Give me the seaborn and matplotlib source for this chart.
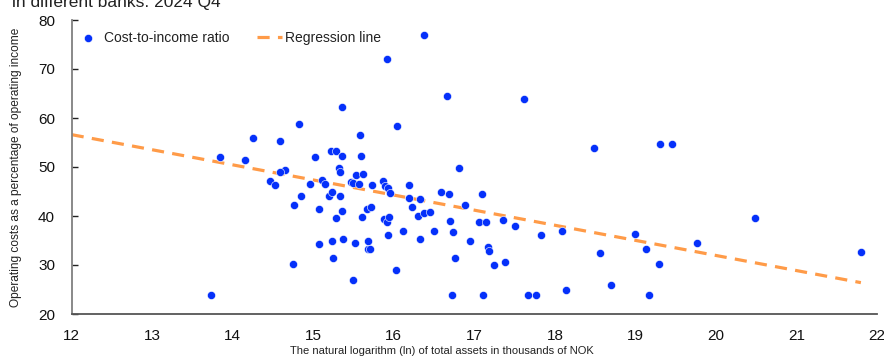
import matplotlib
matplotlib.use("Agg")
import matplotlib.pyplot as plt
import seaborn as sns
import pandas as pd

# ---- data ----
log_assets = [
    16.38, 15.92, 16.66, 17.62, 15.36, 16.04, 14.82, 15.58, 14.25, 14.59,
    19.31, 19.45, 18.48, 15.22, 15.28, 13.84, 14.15, 15.02, 15.36, 15.59,
    15.32, 15.33, 16.81, 14.65, 14.59, 15.53, 15.62, 14.46, 14.53, 15.11,
    15.15, 14.96, 15.47, 15.49, 15.57, 15.73, 15.87, 15.89, 15.93, 15.95,
    16.19, 16.19, 16.33, 16.59, 16.69, 17.10, 16.89, 14.85, 15.20, 15.23,
    15.33, 14.76, 15.07, 15.36, 15.28, 15.61, 15.67, 15.72, 16.22, 16.30,
    16.38, 16.45, 16.70, 17.06, 17.15, 17.35, 17.50, 16.74, 16.50, 16.12,
    15.88, 15.92, 15.94, 15.93, 16.33, 16.95, 15.07, 15.23, 15.37, 15.52,
    15.68, 15.68, 15.71, 17.17, 17.18, 17.83, 18.09, 15.25, 16.03, 15.49,
    16.76, 17.25, 17.38, 14.75, 13.73, 16.72, 17.11, 17.67, 17.76, 18.14,
    20.49, 19.00, 18.56, 19.13, 19.77, 19.29, 18.70, 19.17, 21.80,
]
cost_to_income = [
    76.9, 72.0, 64.4, 63.8, 62.2, 58.3, 58.7, 56.6, 55.9, 55.4,
    54.6, 54.6, 53.8, 53.2, 53.2, 52.0, 51.4, 52.0, 52.2, 52.2,
    49.7, 48.9, 49.7, 49.3, 48.9, 48.3, 48.5, 47.1, 46.3, 47.3,
    46.5, 46.5, 46.9, 46.7, 46.5, 46.3, 47.1, 46.1, 45.7, 44.6,
    46.3, 43.6, 43.4, 44.8, 44.4, 44.4, 42.2, 44.0, 44.0, 44.8,
    44.0, 42.2, 41.4, 41.0, 39.5, 39.7, 41.4, 41.8, 41.8, 39.9,
    40.6, 40.8, 38.9, 38.7, 38.7, 39.1, 37.9, 36.7, 36.9, 36.9,
    39.3, 38.7, 39.7, 36.1, 35.4, 35.0, 34.2, 35.0, 35.4, 34.4,
    35.0, 33.2, 33.2, 33.6, 32.8, 36.1, 36.9, 31.4, 28.9, 26.9,
    31.4, 29.9, 30.6, 30.2, 23.9, 23.9, 23.9, 23.9, 23.9, 25.0,
    39.5, 36.3, 32.4, 33.2, 34.4, 30.3, 25.9, 23.8, 32.6,
]
regression_x = [12.0, 21.8]
regression_y = [56.6, 26.4]

x_ticks = [12, 13, 14, 15, 16, 17, 18, 19, 20, 21, 22]
y_ticks = [20, 30, 40, 50, 60, 70, 80]

title_text = "in different banks. 2024 Q4"
series_label = "Cost-to-income ratio"
regression_label = "Regression line"
x_label = "The natural logarithm (ln) of total assets in thousands of NOK"
y_label = "Operating costs as a percentage of operating income"

# ---- style ----
sns.set_theme(style="white")
plt.rcParams["font.family"] = ["Liberation Sans", "DejaVu Sans"]

W, H = 884, 356
fig = plt.figure(figsize=(W / 100, H / 100), dpi=100)
ax = fig.add_axes([71.7 / W, 1 - 314 / H, (877 - 71.7) / W, (314 - 20) / H])

df = pd.DataFrame({"x": log_assets, "y": cost_to_income})
reg = pd.DataFrame({"x": regression_x, "y": regression_y})

sns.scatterplot(data=df, x="x", y="y", ax=ax, color="#0530FA", s=34,
                linewidth=0.4, edgecolor="white", label=series_label, zorder=3)
sns.lineplot(data=reg, x="x", y="y", ax=ax, color="#FF9B48", linewidth=2.3,
             linestyle=(0, (3.8, 2.6)), label=regression_label, zorder=2)

ax.set_xlim(12, 22)
ax.set_ylim(20, 80)
ax.set_xticks(x_ticks)
ax.set_yticks(y_ticks)
ax.set_xticklabels([str(t) for t in x_ticks])
ax.set_yticklabels([str(t) for t in y_ticks])

for s in ["top", "right"]:
    ax.spines[s].set_visible(False)
ax.spines["left"].set_color("#808080")
ax.spines["left"].set_linewidth(1.3)
ax.spines["bottom"].set_color("#555555")
ax.spines["bottom"].set_linewidth(1.3)

ax.tick_params(axis="x", length=0, pad=11, labelsize=11, labelcolor="#111111")
ax.tick_params(axis="y", direction="in", length=4, width=1, color="#222222",
               pad=12, labelsize=11, labelcolor="#111111", left=True)

ax.set_xlabel("")
ax.set_ylabel(y_label, fontsize=8.6, color="#222222")
ax.yaxis.set_label_coords(-0.062, 0.5)

fig.text(0.5, 1 - 351 / H, x_label, ha="center", va="center", fontsize=8,
         color="#222222")
fig.text(12 / W, 1 - 7 / H, title_text, ha="left", va="baseline", fontsize=12.5,
         color="#222222")

leg = ax.legend(loc="upper left", bbox_to_anchor=(0.0, 0.978), ncol=2,
                frameon=False, fontsize=10, handlelength=1.8, handletextpad=0.2,
                columnspacing=2.0, borderaxespad=0.0, borderpad=0.3,
                markerscale=1.0)
for t in leg.get_texts():
    t.set_color("#222222")

fig.savefig("out.png", dpi=100)
